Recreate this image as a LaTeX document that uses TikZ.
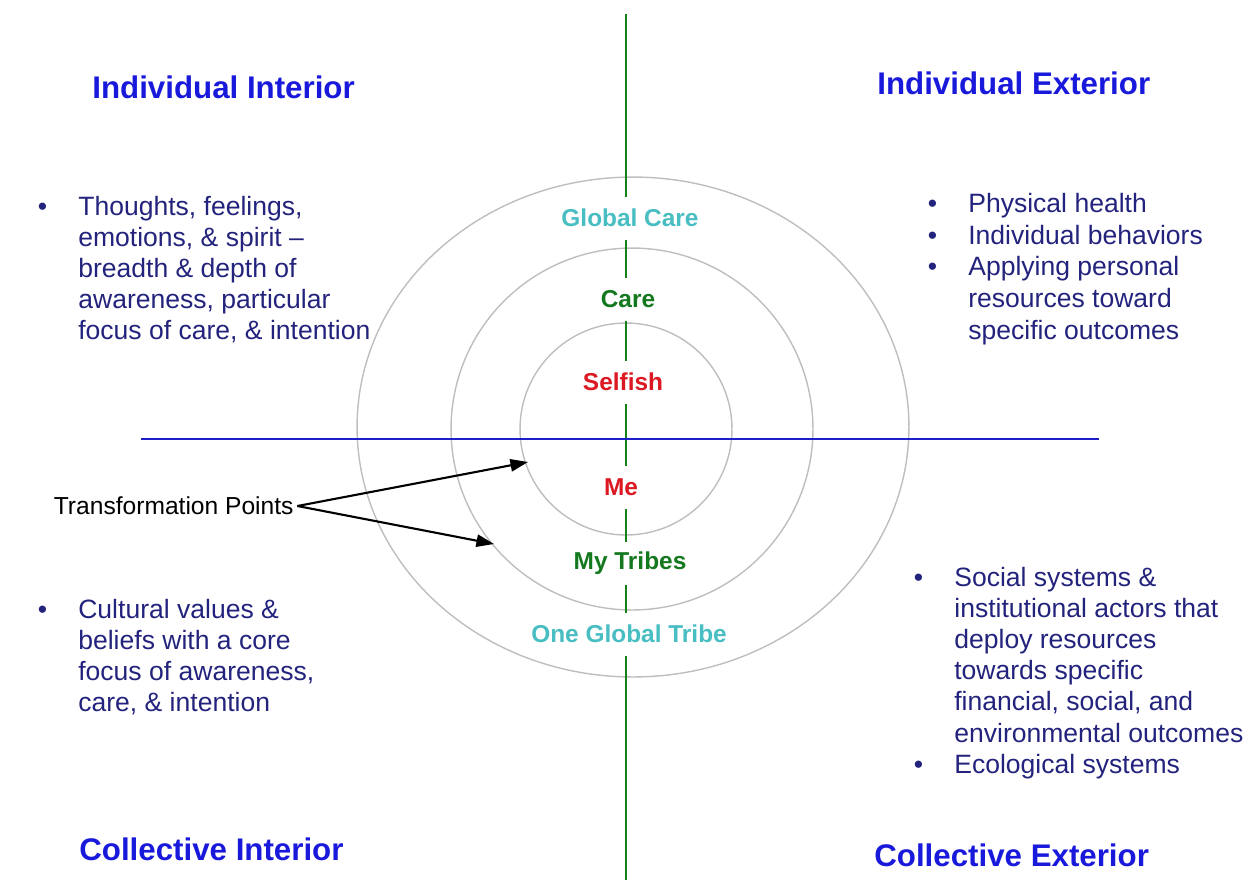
\documentclass[tikz,border=0pt]{standalone}
\usepackage{fontspec}
\setmainfont{Liberation Sans}
\usepackage{tikz}
\usetikzlibrary{arrows.meta}

\definecolor{titleblue}{RGB}{25,25,220}
\definecolor{bodynavy}{RGB}{35,35,125}
\definecolor{ringteal}{RGB}{72,190,195}
\definecolor{ringgreen}{RGB}{20,120,30}
\definecolor{ringred}{RGB}{220,25,35}
\definecolor{ringgray}{RGB}{190,190,190}
\definecolor{axisgreen}{RGB}{20,130,20}
\definecolor{axisblue}{RGB}{30,30,200}

% bullet hanging left of the text column
\newcommand{\bul}{\llap{\textbullet\hspace{17.7pt}}}

\tikzset{
	quadtitle/.style={anchor=west, inner sep=0pt, text=titleblue, font=\fontsize{17.8}{20}\selectfont\bfseries},
	quadtext/.style={anchor=north west, inner sep=0pt, align=left, text=bodynavy, font=\fontsize{15.1}{17.7}\selectfont},
	ring/.style={draw=ringgray, line width=0.8pt},
	ringlabel/.style={fill=white, inner xsep=1pt, inner ysep=0pt, minimum height=0.86cm, font=\fontsize{13.9}{16}\selectfont\bfseries},
	pointer/.style={-{Triangle[length=10pt,width=7pt]}, line width=1.2pt},
}

\begin{document}
\begin{tikzpicture}[x=0.02cm, y=-0.02cm]
	\useasboundingbox (0,0) rectangle (1257,880);
	% the three rings
	\draw[ring] (633,427) ellipse [x radius=5.52cm, y radius=5cm];
	\draw[ring] (632,429) circle [radius=3.62cm];
	\draw[ring] (626,429) circle [radius=2.12cm];
	% axes
	\draw[axisgreen, line width=1.1pt] (626,14) -- (626,880);
	\draw[axisblue, line width=1.1pt] (141,439) -- (1099,439);
	% ring labels, white boxes break the green axis
	\node[ringlabel, text=ringteal] (globalcare) at (630,218) {Global Care};
	\node[ringlabel, text=ringgreen] (care) at (628,299) {Care};
	\node[ringlabel, text=ringred] (selfish) at (623,382) {Selfish};
	\node[ringlabel, text=ringred] (me) at (621,487) {Me};
	\node[ringlabel, text=ringgreen] (mytribes) at (630,563) {My Tribes};
	\node[ringlabel, text=ringteal] (oneglobal) at (629,634) {One Global Tribe};
	% transformation points
	\node[anchor=west, inner sep=2pt, font=\fontsize{14}{16}\selectfont] (tp) at (50,506) {Transformation Points};
	\coordinate (tpin) at (528,462);
	\coordinate (tpout) at (494,544);
	\draw[pointer] (tp.east) -- (tpin);
	\draw[pointer] (tp.east) -- (tpout);
	% quadrant titles
	\node[quadtitle] (ii) at (92,87) {Individual Interior};
	\node[quadtitle] (ie) at (877,83) {Individual Exterior};
	\node[quadtitle] (ci) at (79,849) {Collective Interior};
	\node[quadtitle] (ce) at (874,855) {Collective Exterior};
	% quadrant lists
	\node[quadtext] (iitext) at (78,196) {\bul Thoughts, feelings,\\ emotions, \& spirit –\\ breadth \& depth of\\ awareness, particular\\ focus of care, \& intention};
	\node[quadtext, font=\fontsize{15.1}{18}\selectfont] (ietext) at (968,193) {\bul Physical health\\\bul Individual behaviors\\\bul Applying personal\\ resources toward\\ specific outcomes};
	\node[quadtext] (citext) at (78,599) {\bul Cultural values \&\\ beliefs with a core\\ focus of awareness,\\ care, \& intention};
	\node[quadtext] (cetext) at (954,567) {\bul Social systems \&\\ institutional actors that\\ deploy resources\\ towards specific\\ financial, social, and\\ environmental outcomes\\\bul Ecological systems};
\end{tikzpicture}
\end{document}
